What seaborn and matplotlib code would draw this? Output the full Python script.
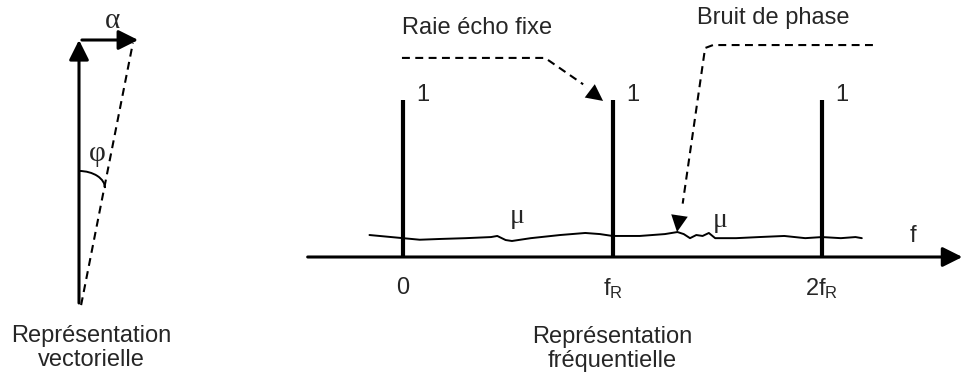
import matplotlib
matplotlib.use("Agg")
import matplotlib.pyplot as plt
import numpy as np
import pandas as pd
import seaborn as sns
from matplotlib.patches import Arc

# --- spectrum data (frequency in units of fR, amplitude relative to the lines)
line_freqs = [0, 1, 2]
line_amps = [1, 1, 1]
freq_labels = ["0", "f$_\\mathrm{R}$", "2f$_\\mathrm{R}$"]
noise_freq = [-0.16, 0.0, 0.08, 0.18, 0.30, 0.42, 0.45, 0.49, 0.52, 0.61, 0.75,
              0.87, 0.94, 1.0, 1.13, 1.25, 1.31, 1.34, 1.37, 1.40, 1.43, 1.46,
              1.49, 1.59, 1.70, 1.82, 1.92, 2.0, 2.09, 2.16, 2.19]
noise_amp = [0.14, 0.12, 0.11, 0.115, 0.12, 0.127, 0.134, 0.108, 0.102, 0.12, 0.14,
             0.153, 0.146, 0.134, 0.134, 0.146, 0.159, 0.146, 0.12, 0.14, 0.134, 0.153,
             0.12, 0.12, 0.127, 0.134, 0.12, 0.127, 0.12, 0.127, 0.12]
mu_labels = [(0.544, 0.255), (1.513, 0.23)]

# --- vector data (unit = carrier length)
carrier = (0.0, 1.0)
noise_vec = (0.225, 0.0)
resultant = (0.205, 0.989)

# --- layout in pixels
W, H = 963, 376
SPEC_X0, SPEC_FR, SPEC_Y0, SPEC_UNIT = 403, 209.5, 257, 157
VEC_X0, VEC_Y0, VEC_UNIT = 79, 303, 263

sns.set_theme(style="white")
plt.rcParams["font.family"] = ["Liberation Sans", "DejaVu Sans"]
plt.rcParams["mathtext.fontset"] = "custom"
plt.rcParams["mathtext.rm"] = "Liberation Sans"
plt.rcParams["mathtext.it"] = "Liberation Sans"

FS = 17
GREEK = ["Liberation Serif", "DejaVu Serif"]
DASH = (0, (3.8, 2.6))
HEAD = dict(arrowstyle="-|>", mutation_scale=30, color="black", shrinkA=0, shrinkB=0)

fig = plt.figure(figsize=(W / 100, H / 100), dpi=100)

ax = fig.add_axes([0, 0, 1, 1])
ax.set_xlim(-SPEC_X0 / SPEC_FR, (W - SPEC_X0) / SPEC_FR)
ax.set_ylim((SPEC_Y0 - H) / SPEC_UNIT, SPEC_Y0 / SPEC_UNIT)
ax.axis("off")

axv = fig.add_axes([0, 0, 1, 1])
axv.set_xlim(-VEC_X0 / VEC_UNIT, (W - VEC_X0) / VEC_UNIT)
axv.set_ylim((VEC_Y0 - H) / VEC_UNIT, VEC_Y0 / VEC_UNIT)
axv.axis("off")
axv.patch.set_alpha(0)

# ---------------- spectrum ----------------
# frequency axis
ax.annotate("", xy=(2.67, 0), xytext=(-0.455, 0), arrowprops=dict(HEAD, lw=2.2))
ax.text(2.434, 0.134, "f", fontsize=FS, ha="center", va="center")

# spectral lines
ax.vlines(line_freqs, 0, line_amps, colors="black", lw=3)
for f, a in zip(line_freqs, line_amps):
    ax.text(f + 0.095, a + 0.03, "1", fontsize=FS, ha="center", va="center")
for f, lab in zip(line_freqs, freq_labels):
    ax.text(f, -0.2, lab, fontsize=FS, ha="center", va="center")

# phase noise floor
noise = pd.DataFrame({"f": noise_freq, "a": noise_amp})
sns.lineplot(data=noise, x="f", y="a", ax=ax, color="black", lw=1.4,
             sort=False, estimator=None)
for x, y in mu_labels:
    ax.text(x, y, "μ", fontsize=20, family=GREEK, ha="center", va="center")

# leader: "Raie écho fixe"
ax.text(-0.005, 1.459, "Raie écho fixe", fontsize=FS, ha="left", va="center")
raie_x = [-0.005, 0.678, 0.86]
raie_y = [1.268, 1.268, 1.10]
ax.plot(raie_x, raie_y, color="black", lw=1.5, ls=DASH)
ax.annotate("", xy=(0.955, 0.994), xytext=(0.85, 1.10), arrowprops=dict(HEAD, lw=0.01))

# leader: "Bruit de phase"
ax.text(1.403, 1.522, "Bruit de phase", fontsize=FS, ha="left", va="center")
bruit_x = [2.243, 1.48, 1.442, 1.335]
bruit_y = [1.35, 1.35, 1.331, 0.34]
ax.plot(bruit_x, bruit_y, color="black", lw=1.5, ls=DASH)
ax.annotate("", xy=(1.308, 0.159), xytext=(1.326, 0.32), arrowprops=dict(HEAD, lw=0.01))

ax.text(1.0, -0.585, "Représentation\nfréquentielle", fontsize=FS,
        ha="center", va="center", linespacing=1.12)

# ---------------- vector diagram ----------------
axv.annotate("", xy=carrier, xytext=(0, 0), arrowprops=dict(HEAD, lw=2.2))
axv.annotate("", xy=(carrier[0] + noise_vec[0], carrier[1]), xytext=(0.011, carrier[1]),
             arrowprops=dict(HEAD, lw=2.2))
axv.plot([0.008, resultant[0]], [-0.008, resultant[1]], color="black", lw=1.5, ls=DASH)
axv.add_patch(Arc((0, 0.437), 0.198, 0.13, theta1=0, theta2=90, color="black", lw=1.4))
axv.text(0.129, 1.072, "α", fontsize=21, family=GREEK, ha="center", va="center")
axv.text(0.068, 0.565, "φ", fontsize=21, family=GREEK, ha="center", va="center")
axv.text(0.046, -0.171, "Représentation\nvectorielle", fontsize=FS,
         ha="center", va="center", linespacing=1.12)

fig.savefig("out.png", dpi=100)
